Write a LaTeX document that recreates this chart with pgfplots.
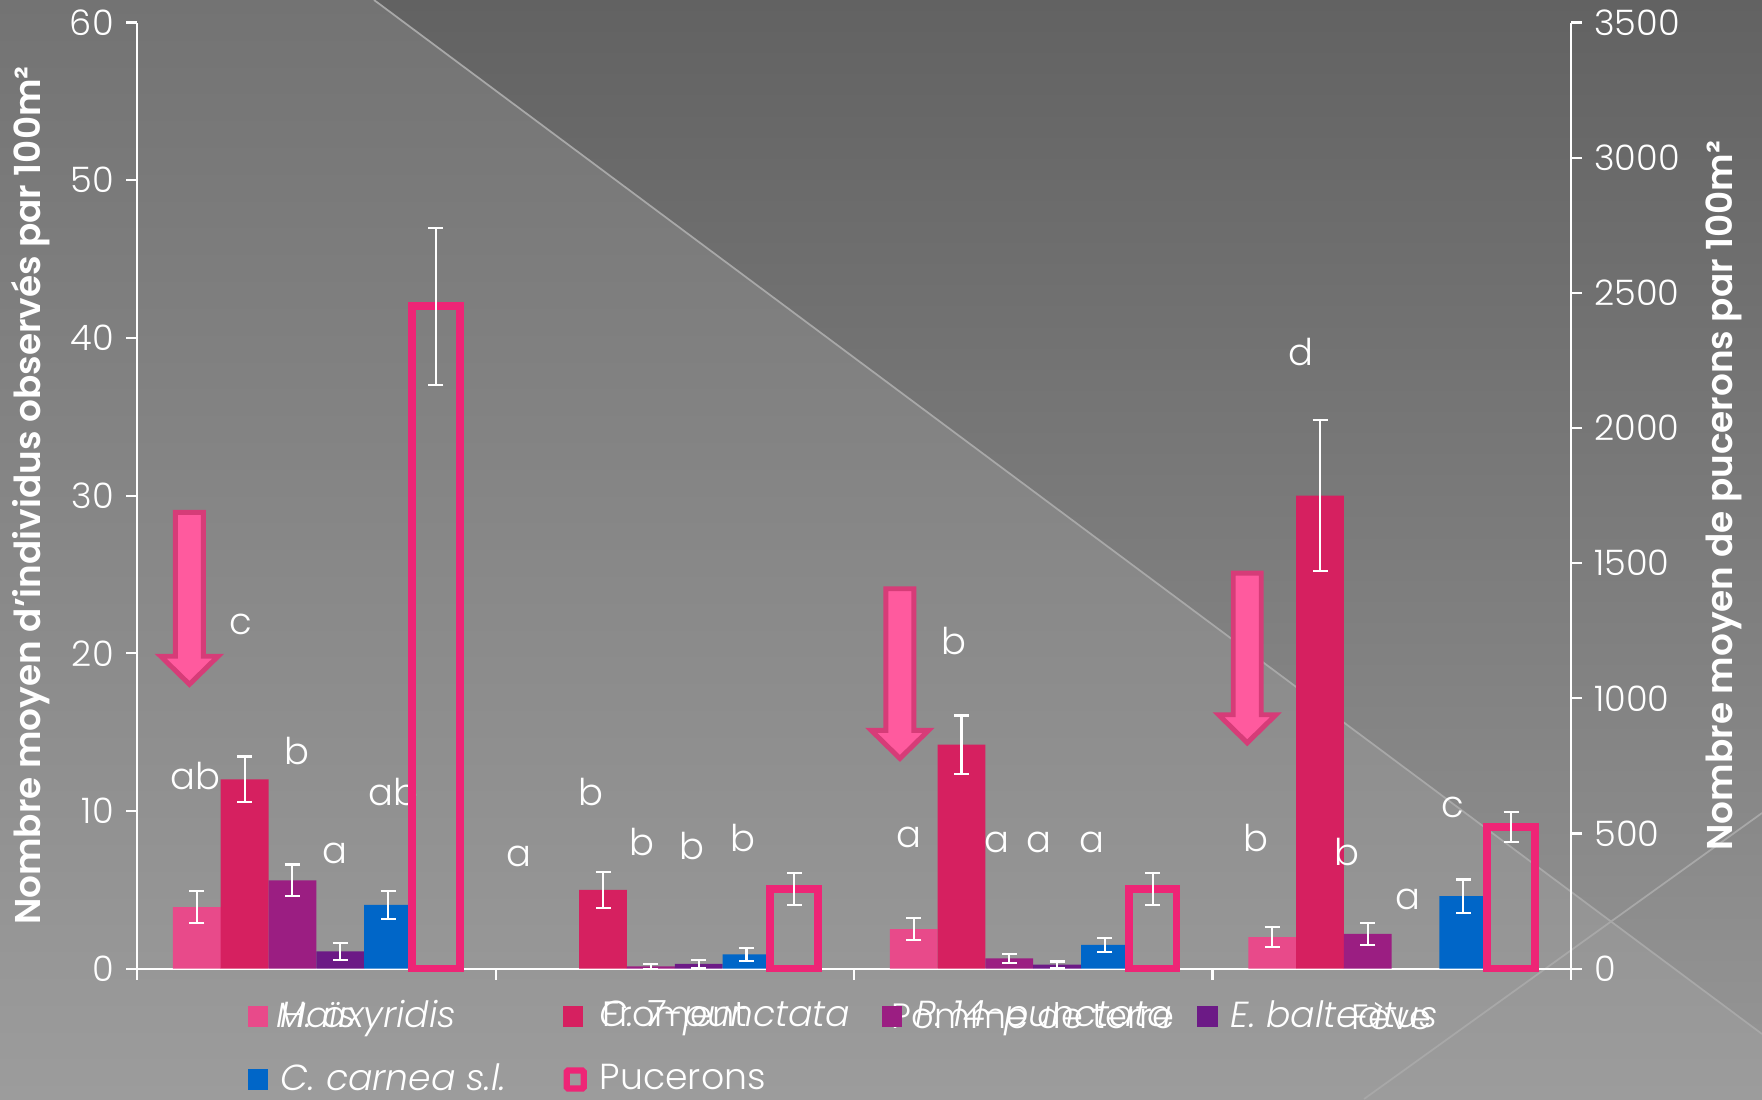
\documentclass[border=0pt]{standalone}
\usepackage{pgfplots}
\pgfplotsset{compat=1.18}
\usepackage{fontspec}
\setmainfont{Poppins}[UprightFont={* Light}, ItalicFont={* Light Italic}, BoldFont={* SemiBold}]

\definecolor{bgtop}{HTML}{737373}
\definecolor{bgbot}{HTML}{9C9C9C}
\definecolor{tritop}{HTML}{626262}
\definecolor{tribot}{HTML}{939393}
\definecolor{bgline}{HTML}{A8A8A8}
\definecolor{colHA}{HTML}{E84A8A}
\definecolor{colCS}{HTML}{D62060}
\definecolor{colPQ}{HTML}{9B1E82}
\definecolor{colEB}{HTML}{6C1A86}
\definecolor{colCC}{HTML}{0066C8}
\definecolor{colPuc}{HTML}{EE2576}
\definecolor{arrFill}{HTML}{FF5A9E}
\definecolor{arrEdge}{HTML}{D63C78}

\pgfplotsset{
  basechart/.style={
    at={(1.371cm,1.304cm)}, anchor=south west,
    scale only axis, width=14.338cm, height=9.461cm,
    xmin=-0.5, xmax=3.5,
    axis line style={white, line width=0.6pt, -},
    tick style={white, line width=0.6pt},
    tick align=outside,
    major tick length=0.11cm, minor tick length=0.11cm,
    ticklabel style={white, font=\fontsize{10}{12}\selectfont},
    /pgf/number format/assume math mode=true,
    /pgf/number format/1000 sep={},
    label style={white, font=\bfseries\fontsize{10.2}{12}\selectfont},
    clip=false,
  },
  % bars are placed at their own x positions (category index +- offset)
  barstyle/.style={forget plot, ybar, bar width=0.478cm, bar shift=0pt},
  errstyle/.style={
    error bars/.cd, y dir=both, y explicit,
    error bar style={white, line width=0.6pt},
    error mark options={white, rotate=90, mark size=0.075cm, line width=0.6pt},
  },
}

\begin{document}
\begin{tikzpicture}[x=1cm, y=1cm]
% backdrop
\path[use as bounding box] (0,0) rectangle (17.62,10.99);
\shade[top color=bgtop, bottom color=bgbot] (0,0) rectangle (17.62,10.99);
\shade[top color=tritop, bottom color=tribot] (3.74,10.99) -- (17.62,10.99) -- (17.62,0.65) -- cycle;
\draw[bgline, line width=0.5pt] (3.74,10.99) -- (17.62,0.65);
\draw[bgline, line width=0.5pt] (13.64,0) -- (17.62,2.86);

% left axis: predators
\begin{axis}[basechart,
  ymin=0, ymax=60,
  axis y line*=left, axis x line*=bottom,
  ytick={0,10,...,60},
  xtick={0,1,2,3},
  xticklabels={\textit{Maïs}, Froment, Pomme de terre, Fève},
  major x tick style={draw=none},
  minor xtick={-0.5,0.5,1.5,2.5,3.5},
  xticklabel style={yshift=-0.1cm},
  ylabel={Nombre moyen d'individus observés par 100m²},
  ylabel style={at={(axis description cs:-0.074,0.5)}, anchor=center},
  legend columns=4,
  legend cell align=left,
  legend style={at={(axis description cs:0.0765,-0.025)}, anchor=north west,
    draw=none, fill=none, text=white, inner sep=0pt,
    font=\fontsize{10.3}{12}\selectfont, row sep=0.17cm,
    /tikz/every even column/.append style={column sep=0pt}},
]
\addlegendimage{legend image code/.code={\fill[colHA] (0cm,-0.1cm) rectangle (0.19cm,0.1cm);}}
\addlegendentry{\makebox[2.81cm][l]{\hspace{0.06cm}\itshape H. axyridis}}
\addlegendimage{legend image code/.code={\fill[colCS] (0cm,-0.1cm) rectangle (0.19cm,0.1cm);}}
\addlegendentry{\makebox[2.81cm][l]{\hspace{0.06cm}\itshape C. 7-punctata}}
\addlegendimage{legend image code/.code={\fill[colPQ] (0cm,-0.1cm) rectangle (0.19cm,0.1cm);}}
\addlegendentry{\makebox[2.81cm][l]{\hspace{0.06cm}\itshape P. 14-punctata}}
\addlegendimage{legend image code/.code={\fill[colEB] (0cm,-0.1cm) rectangle (0.19cm,0.1cm);}}
\addlegendentry{\makebox[2.81cm][l]{\hspace{0.06cm}\itshape E. balteatus}}
\addlegendimage{legend image code/.code={\fill[colCC] (0cm,-0.1cm) rectangle (0.19cm,0.1cm);}}
\addlegendentry{\makebox[2.81cm][l]{\hspace{0.06cm}\itshape C. carnea s.l.}}
\addlegendimage{legend image code/.code={\draw[colPuc, line width=1.8pt, fill=bgbot, rounded corners=0.4pt] (0.03cm,-0.09cm) rectangle (0.2cm,0.09cm);}}
\addlegendentry{\makebox[2.81cm][l]{\hspace{0.06cm}Pucerons}}

% H. axyridis
\addplot[barstyle, fill=colHA, draw=none, errstyle]
  coordinates {(-0.3333,3.9) +- (0,1.0) (1.6667,2.5) +- (0,0.7) (2.6667,2.0) +- (0,0.65)};
% C. 7-punctata
\addplot[barstyle, fill=colCS, draw=none, errstyle]
  coordinates {(-0.2,12.0) +- (0,1.45) (0.8,5.0) +- (0,1.15) (1.8,14.2) +- (0,1.85) (2.8,30.0) +- (0,4.8)};
% P. 14-punctata
\addplot[barstyle, fill=colPQ, draw=none, errstyle]
  coordinates {(-0.0667,5.6) +- (0,1.0) (0.9333,0.15) +- (0,0.15) (1.9333,0.65) +- (0,0.3) (2.9333,2.2) +- (0,0.7)};
% E. balteatus
\addplot[barstyle, fill=colEB, draw=none, errstyle]
  coordinates {(0.0667,1.1) +- (0,0.55) (1.0667,0.3) +- (0,0.25) (2.0667,0.25) +- (0,0.2)};
% C. carnea s.l.
\addplot[barstyle, fill=colCC, draw=none, errstyle]
  coordinates {(0.2,4.05) +- (0,0.9) (1.2,0.9) +- (0,0.4) (2.2,1.5) +- (0,0.45) (3.2,4.6) +- (0,1.05)};

% significance letters
\begin{scope}[every node/.style={white, font=\fontsize{10.5}{12}\selectfont, inner sep=0pt}]
\node at (axis cs:-0.337,12.2) {ab};
\node at (axis cs:-0.212,21.8) {c};
\node at (axis cs:-0.055,13.8) {b};
\node at (axis cs:0.052,7.3) {a};
\node at (axis cs:0.215,11.2) {ab};
\node at (axis cs:0.566,7.1) {a};
\node at (axis cs:0.767,11.2) {b};
\node at (axis cs:0.908,8.0) {b};
\node at (axis cs:1.049,7.8) {b};
\node at (axis cs:1.190,8.3) {b};
\node at (axis cs:1.654,8.3) {a};
\node at (axis cs:1.779,20.8) {b};
\node at (axis cs:1.898,8.0) {a};
\node at (axis cs:2.017,8.0) {a};
\node at (axis cs:2.165,8.0) {a};
\node at (axis cs:2.622,8.3) {b};
\node at (axis cs:2.748,39.1) {d};
\node at (axis cs:2.876,7.4) {b};
\node at (axis cs:3.046,4.4) {a};
\node at (axis cs:3.171,10.2) {c};
\end{scope}

% highlight arrows
\begin{scope}[draw=arrEdge, fill=arrFill, line width=1.4pt, line join=miter]
\filldraw (axis cs:-0.393,28.93) -- (axis cs:-0.315,28.93) -- (axis cs:-0.315,19.81) -- (axis cs:-0.274,19.81)
  -- (axis cs:-0.354,18.03) -- (axis cs:-0.434,19.81) -- (axis cs:-0.393,19.81) -- cycle;
\filldraw (axis cs:1.589,24.09) -- (axis cs:1.667,24.09) -- (axis cs:1.667,15.11) -- (axis cs:1.708,15.11)
  -- (axis cs:1.628,13.33) -- (axis cs:1.548,15.11) -- (axis cs:1.589,15.11) -- cycle;
\filldraw (axis cs:2.558,25.08) -- (axis cs:2.636,25.08) -- (axis cs:2.636,16.10) -- (axis cs:2.677,16.10)
  -- (axis cs:2.597,14.32) -- (axis cs:2.517,16.10) -- (axis cs:2.558,16.10) -- cycle;
\end{scope}
\end{axis}

% right axis: aphids
\begin{axis}[basechart,
  ymin=0, ymax=3500,
  axis y line*=right, axis x line=none,
  ytick={0,500,...,3500},
  ylabel={Nombre moyen de pucerons par 100m²},
  ylabel style={at={(axis description cs:1.107,0.5)}, anchor=center},
]
\addplot[barstyle, fill=none, draw=colPuc, line width=2.2pt, errstyle]
  coordinates {(0.3333,2450) +- (0,290) (1.3333,295) +- (0,60) (2.3333,295) +- (0,60) (3.3333,525) +- (0,55)};
\end{axis}
\end{tikzpicture}
\end{document}
